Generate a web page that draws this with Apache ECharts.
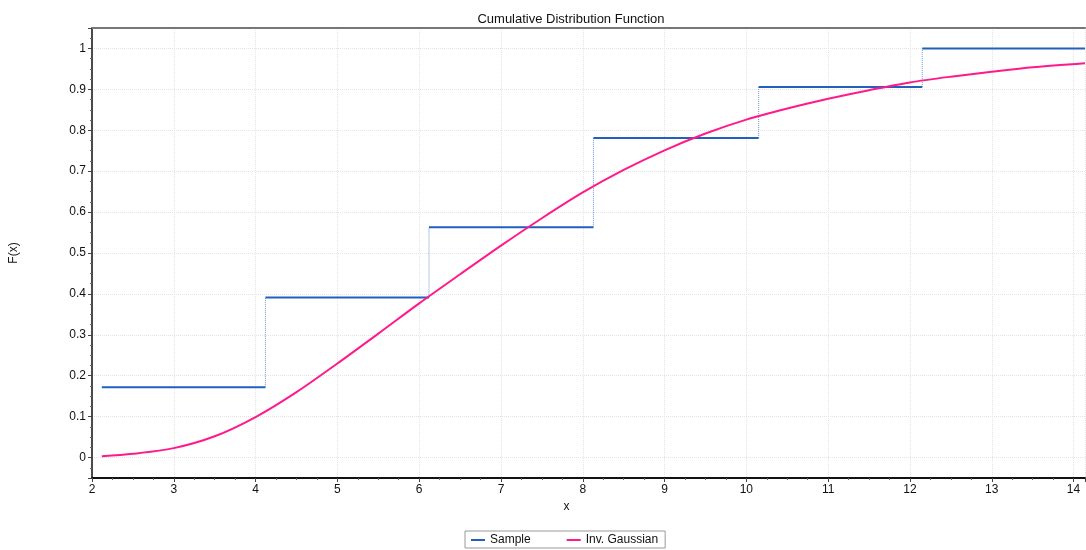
<!DOCTYPE html>
<html>
<head>
<meta charset="utf-8">
<script src="https://cdn.jsdelivr.net/npm/echarts@6/dist/echarts.min.js"></script>
<style>html,body{margin:0;padding:0;background:#fff}#c{width:1086px;height:550px}</style>
</head>
<body>
<div id="c"></div>
<script>
// Sample step edges and ECDF levels
const sampleX = [2.12, 4.12, 6.12, 8.13, 10.15, 12.15, 14.14];
const sampleF = [0.172, 0.391, 0.563, 0.781, 0.906, 1.0];
// Inverse Gaussian fitted CDF
const curveX = [2.12, 2.5, 3, 3.5, 4, 4.5, 5, 5.5, 6, 6.5, 7, 7.5, 8, 8.5, 9, 9.5, 10, 10.5, 11, 11.5, 12, 12.5, 13, 13.5, 14.14];
const curveF = [0.003, 0.009, 0.023, 0.052, 0.099, 0.160, 0.230, 0.303, 0.377, 0.448, 0.518, 0.585, 0.648, 0.703, 0.751, 0.792, 0.826, 0.853, 0.877, 0.898, 0.917, 0.931, 0.943, 0.954, 0.964];
const xTicks = [2, 3, 4, 5, 6, 7, 8, 9, 10, 11, 12, 13, 14];
const yTicks = [0, 0.1, 0.2, 0.3, 0.4, 0.5, 0.6, 0.7, 0.8, 0.9, 1];

const horiz = [];
const vert = [];
for (let i = 0; i < sampleF.length; i++) {
  horiz.push([sampleX[i], sampleF[i]], [sampleX[i + 1], sampleF[i]], [sampleX[i + 1], '-']);
  if (i > 0) vert.push([sampleX[i], sampleF[i - 1]], [sampleX[i], sampleF[i]], [sampleX[i], '-']);
}
const curve = curveX.map((x, i) => [x, curveF[i]]);

const FONT = 'Liberation Sans, Arial, sans-serif';
const chart = echarts.init(document.getElementById('c'), null, {renderer: 'canvas'});
chart.setOption({
  animation: false,
  backgroundColor: '#fff',
  title: {
    text: 'Cumulative Distribution Function',
    left: 566, top: 8, textAlign: 'center',
    textStyle: {fontFamily: FONT, fontSize: 13, fontWeight: 'normal', color: '#111'}
  },
  legend: {
    data: [{name: 'Sample'}, {name: 'Inv. Gaussian'}],
    left: 465, bottom: 2,
    icon: 'rect', itemWidth: 14, itemHeight: 2, itemGap: 36,
    borderColor: '#999', borderWidth: 1, borderRadius: 0, padding: [3, 7, 2, 6],
    textStyle: {fontFamily: FONT, fontSize: 12, color: '#111'}
  },
  grid: {left: 92, right: 1, top: 28, bottom: 72, containLabel: false},
  xAxis: [{
    type: 'value', min: 2, max: 14.14, interval: 1,
    name: 'x', nameLocation: 'middle', nameGap: 20,
    nameTextStyle: {fontFamily: FONT, fontSize: 12, color: '#111', padding: [0, 44, 0, 0]},
    axisLine: {show: true, onZero: false, lineStyle: {color: '#111', width: 2}},
    axisTick: {show: true, length: 4, lineStyle: {color: '#444'}},
    minorTick: {show: true, splitNumber: 4, length: 2, lineStyle: {color: '#666'}},
    axisLabel: {fontFamily: FONT, fontSize: 12, color: '#111', margin: 6, showMaxLabel: false,
      formatter: v => xTicks.indexOf(v) >= 0 ? String(v) : ''},
    splitLine: {show: true, lineStyle: {color: '#e4e4e4', type: 'dotted'}}
  }, {
    type: 'value', position: 'top', min: 2, max: 14.14, interval: 1,
    axisLine: {show: true, onZero: false, lineStyle: {color: '#777', width: 2}},
    axisTick: {show: false}, axisLabel: {show: false}, splitLine: {show: false}
  }],
  yAxis: {
    type: 'value', min: -0.05, max: 1.05, splitNumber: 11,
    name: 'F(x)', nameLocation: 'middle', nameGap: 72, nameRotate: 90,
    nameTextStyle: {fontFamily: FONT, fontSize: 12, color: '#111'},
    axisLine: {show: true, onZero: false, lineStyle: {color: '#111', width: 1.5}},
    axisTick: {show: true, length: 4, lineStyle: {color: '#444'}},
    minorTick: {show: true, splitNumber: 4, length: 2, lineStyle: {color: '#666'}},
    axisLabel: {fontFamily: FONT, fontSize: 12, color: '#111', margin: 6,
      showMinLabel: false, showMaxLabel: false,
      formatter: v => {
        const m = yTicks.find(t => Math.abs(t - v) < 1e-6);
        return m === undefined ? '' : String(m);
      }},
    splitLine: {show: true, lineStyle: {color: '#e4e4e4', type: 'dotted'}}
  },
  series: [{
    name: 'Sample', type: 'line', data: horiz, showSymbol: false, symbol: 'none',
    connectNulls: false, color: '#2360bd',
    lineStyle: {color: '#2360bd', width: 2}, z: 3
  }, {
    name: 'Sample jumps', type: 'line', data: vert, showSymbol: false, symbol: 'none',
    connectNulls: false, color: '#6a95d6',
    lineStyle: {color: '#6a95d6', width: 1, type: 'dotted'}, z: 2
  }, {
    name: 'Inv. Gaussian', type: 'line', data: curve, smooth: 0.3,
    showSymbol: false, symbol: 'none',
    color: '#ff1a8c',
    lineStyle: {color: '#ff1a8c', width: 2}, z: 4
  }]
});
</script>
</body>
</html>
